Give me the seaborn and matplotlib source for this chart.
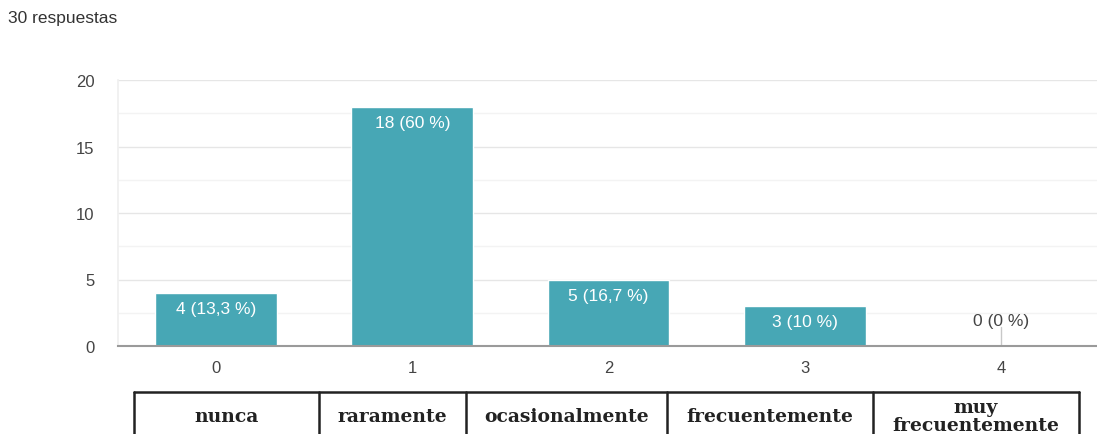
import matplotlib.pyplot as plt
import seaborn as sns
import pandas as pd

# datos de la encuesta
categorias = ["0", "1", "2", "3", "4"]
respuestas = [4, 18, 5, 3, 0]
etiquetas = ["4 (13,3 %)", "18 (60 %)", "5 (16,7 %)", "3 (10 %)", "0 (0 %)"]
nombres = ["nunca", "raramente", "ocasionalmente", "frecuentemente", "muy\nfrecuentemente"]
total_txt = "30 respuestas"

df = pd.DataFrame({"cat": categorias, "n": respuestas})

sns.set_theme(style="white")
plt.rcParams["font.family"] = ["Liberation Sans", "DejaVu Sans"]

fig = plt.figure(figsize=(10.97, 4.35), dpi=100)
ax = fig.add_axes([118 / 1097, 88 / 435, 981 / 1097, 266 / 435])

sns.barplot(data=df, x="cat", y="n", color="#47a7b5", saturation=1, width=0.62, ax=ax)

ax.set_ylim(0, 20)
ax.set_xlim(-0.5, 4.5)
ax.set_yticks([0, 5, 10, 15, 20])
ax.set_yticks([2.5, 7.5, 12.5, 17.5], minor=True)
ax.grid(axis="y", which="major", color="#e6e6e6", lw=1)
ax.grid(axis="y", which="minor", color="#f3f3f3", lw=1)
ax.set_axisbelow(True)
for s in ["top", "right"]:
    ax.spines[s].set_visible(False)
ax.spines["left"].set_color("#f0f0f0")
ax.spines["bottom"].set_color("#9a9a9a")
ax.spines["bottom"].set_linewidth(1.5)
ax.set_xlabel("")
ax.set_ylabel("")
ax.tick_params(axis="both", which="both", length=0, labelsize=12, labelcolor="#444444")
ax.tick_params(axis="y", pad=17)
ax.tick_params(axis="x", pad=10)

# etiquetas de las barras
for i, (v, t) in enumerate(zip(respuestas, etiquetas)):
    if v > 0:
        ax.annotate(t, (i, v), xytext=(0, -6), textcoords="offset points",
                    ha="center", va="top", color="white", fontsize=12.5)
    else:
        ax.plot([i, i], [0, 1.4], color="#c8c8c8", lw=1)
        ax.annotate(t, (i, v), xytext=(0, 13), textcoords="offset points",
                    ha="center", va="bottom", color="#444444", fontsize=12.5)

fig.text(8 / 1097, 1 - 18 / 435, total_txt, fontsize=12.5, color="#333333", va="center")

# tabla de categorias debajo
tab = fig.add_axes([0, 0, 1, 1], facecolor="none")
tab.set_xlim(0, 1097)
tab.set_ylim(435, 0)
tab.axis("off")
bordes = [134, 319, 466, 667, 873, 1079]
tab.plot([bordes[0], bordes[-1]], [393, 393], color="#222222", lw=1.8)
for b in bordes:
    tab.plot([b, b], [393, 440], color="#222222", lw=1.8)
for j, nom in enumerate(nombres):
    xc = (bordes[j] + bordes[j + 1]) / 2
    tab.text(xc, 417, nom, ha="center", va="center", fontsize=13.5,
             fontweight="bold", family="DejaVu Serif", color="#222222", linespacing=1.0)

fig.savefig("out.png", dpi=100)
